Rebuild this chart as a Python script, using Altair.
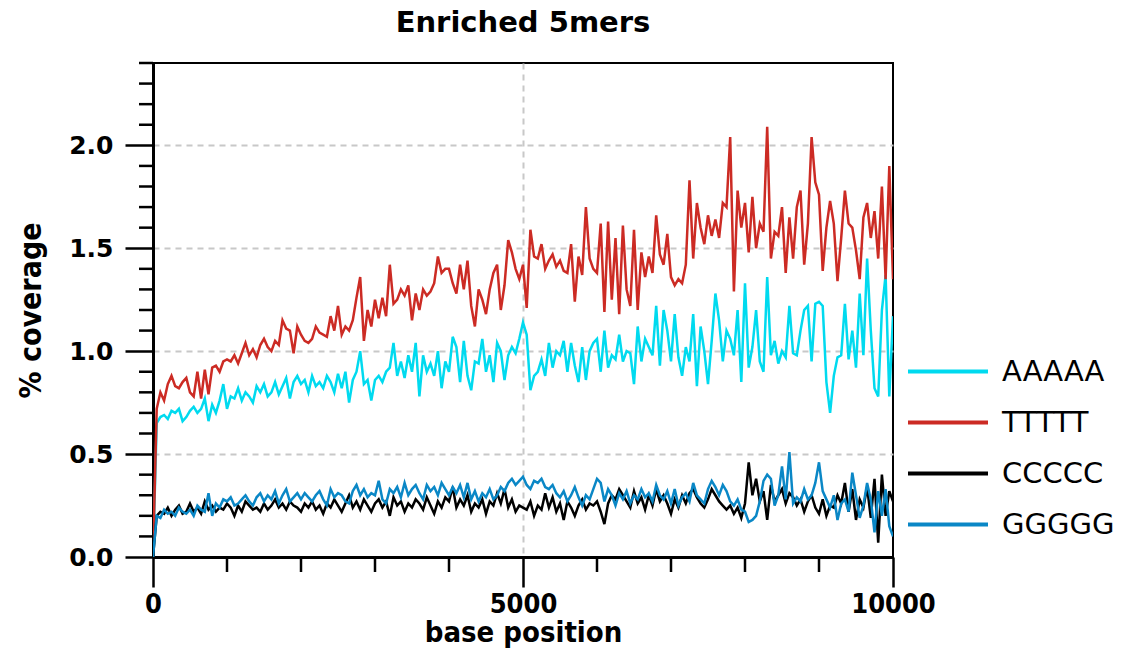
import altair as alt
import pandas as pd

# base positions (every 50 bp)
positions = list(range(0, 10001, 50))

aaaaa = [
    0, 0.65, 0.68, 0.69, 0.67, 0.71, 0.70, 0.72, 0.66, 0.68, 0.71, 0.73, 0.70, 0.72, 0.77, 0.66, 0.74, 0.70, 0.76, 0.84,
    0.72, 0.78, 0.77, 0.82, 0.76, 0.80, 0.78, 0.75, 0.83, 0.80, 0.84, 0.78, 0.80, 0.85, 0.79, 0.83, 0.87, 0.77, 0.85, 0.88,
    0.84, 0.86, 0.80, 0.88, 0.83, 0.85, 0.82, 0.88, 0.85, 0.80, 0.89, 0.82, 0.90, 0.75, 0.86, 0.90, 1.00, 0.84, 0.86, 0.76,
    0.86, 0.88, 0.85, 0.90, 0.92, 1.04, 0.88, 0.95, 0.87, 0.98, 0.90, 1.04, 0.78, 0.98, 0.90, 0.94, 0.88, 1.00, 0.82, 0.95,
    0.90, 1.07, 1.02, 0.85, 1.05, 0.88, 0.81, 0.95, 0.94, 1.06, 0.90, 0.98, 0.85, 1.04, 1.00, 0.86, 0.98, 1.02, 0.99, 1.06,
    1.14, 1.08, 0.81, 0.88, 0.90, 0.96, 0.88, 1.04, 0.92, 1.00, 0.98, 1.05, 0.90, 1.04, 0.93, 0.85, 1.02, 0.86, 1.00, 1.04,
    1.06, 0.90, 1.10, 0.92, 0.98, 0.96, 1.08, 0.95, 1.00, 0.99, 0.84, 1.12, 0.95, 1.06, 1.02, 0.98, 1.22, 0.93, 1.20, 1.10,
    0.95, 1.18, 0.97, 0.88, 1.02, 0.95, 1.18, 0.83, 1.12, 1.00, 0.84, 1.05, 1.28, 1.15, 0.95, 1.10, 1.06, 0.98, 1.20, 0.85,
    1.33, 0.92, 1.02, 1.20, 0.95, 0.90, 1.36, 0.98, 1.05, 0.94, 1.00, 0.97, 1.22, 0.99, 0.98, 1.10, 1.20, 1.22, 0.95, 1.23,
    1.24, 1.22, 0.85, 0.70, 0.88, 0.97, 0.98, 1.23, 0.96, 1.10, 0.92, 1.28, 0.98, 1.45, 1.10, 0.82, 0.78, 1.20, 1.37, 0.78,
    1.17,
]

ttttt = [
    0, 0.72, 0.80, 0.76, 0.84, 0.88, 0.83, 0.82, 0.85, 0.87, 0.80, 0.78, 0.90, 0.77, 0.91, 0.79, 0.92, 0.93, 0.90, 0.95,
    0.96, 0.95, 0.98, 0.94, 0.99, 1.04, 0.98, 1.01, 0.97, 1.03, 1.06, 1.02, 1.00, 1.05, 1.03, 1.15, 1.11, 1.10, 0.99, 1.12,
    1.08, 1.05, 1.04, 1.06, 1.12, 1.09, 1.08, 1.07, 1.17, 1.10, 1.22, 1.08, 1.12, 1.10, 1.15, 1.26, 1.36, 1.05, 1.20, 1.12,
    1.25, 1.16, 1.26, 1.17, 1.42, 1.23, 1.25, 1.30, 1.27, 1.32, 1.15, 1.28, 1.20, 1.30, 1.27, 1.29, 1.33, 1.46, 1.38, 1.40,
    1.40, 1.33, 1.28, 1.42, 1.30, 1.44, 1.22, 1.12, 1.30, 1.25, 1.18, 1.30, 1.38, 1.42, 1.20, 1.32, 1.54, 1.48, 1.40, 1.35,
    1.42, 1.21, 1.59, 1.46, 1.45, 1.52, 1.40, 1.44, 1.47, 1.41, 1.44, 1.39, 1.38, 1.52, 1.24, 1.46, 1.37, 1.70, 1.45, 1.40,
    1.38, 1.62, 1.19, 1.63, 1.25, 1.55, 1.18, 1.61, 1.30, 1.22, 1.59, 1.20, 1.48, 1.36, 1.46, 1.38, 1.66, 1.47, 1.42, 1.57,
    1.36, 1.32, 1.35, 1.33, 1.42, 1.83, 1.45, 1.72, 1.60, 1.52, 1.66, 1.56, 1.64, 1.55, 1.72, 1.70, 2.04, 1.29, 1.78, 1.60,
    1.72, 1.48, 1.75, 1.50, 1.62, 1.58, 2.09, 1.45, 1.58, 1.56, 1.70, 1.38, 1.65, 1.45, 1.70, 1.78, 1.42, 1.62, 2.04, 1.82,
    1.76, 1.39, 1.60, 1.73, 1.62, 1.34, 1.55, 1.78, 1.62, 1.60, 1.49, 1.35, 1.65, 1.72, 1.55, 1.68, 1.45, 1.80, 1.35, 1.90,
    1.35,
]

ccccc = [
    0, 0.20, 0.22, 0.21, 0.24, 0.20, 0.23, 0.25, 0.21, 0.22, 0.26, 0.22, 0.24, 0.21, 0.27, 0.23, 0.25, 0.22, 0.24, 0.23,
    0.26, 0.24, 0.20, 0.25, 0.22, 0.27, 0.25, 0.23, 0.24, 0.22, 0.26, 0.23, 0.25, 0.28, 0.24, 0.26, 0.23, 0.27, 0.25, 0.24,
    0.22, 0.26, 0.24, 0.27, 0.23, 0.25, 0.21, 0.26, 0.24, 0.28, 0.25, 0.22, 0.26, 0.30, 0.24, 0.27, 0.23, 0.28, 0.25, 0.22,
    0.26, 0.28, 0.24, 0.27, 0.20, 0.29, 0.25, 0.27, 0.22, 0.26, 0.24, 0.28, 0.26, 0.23, 0.29, 0.25, 0.21, 0.27, 0.24, 0.29,
    0.27, 0.34, 0.24, 0.28, 0.25, 0.30, 0.22, 0.26, 0.24, 0.28, 0.21, 0.27, 0.25, 0.31, 0.26, 0.33, 0.24, 0.28, 0.22, 0.25,
    0.24, 0.23, 0.27, 0.20, 0.25, 0.23, 0.31, 0.24, 0.29, 0.22, 0.26, 0.18, 0.27, 0.24, 0.20, 0.25, 0.28, 0.23, 0.26, 0.25,
    0.27, 0.22, 0.16, 0.26, 0.30, 0.28, 0.33, 0.30, 0.27, 0.24, 0.32, 0.26, 0.29, 0.23, 0.30, 0.25, 0.33, 0.27, 0.30, 0.26,
    0.21, 0.28, 0.24, 0.30, 0.26, 0.31, 0.33, 0.29, 0.26, 0.24, 0.28, 0.33, 0.30, 0.27, 0.25, 0.23, 0.25, 0.21, 0.24, 0.19,
    0.26, 0.46, 0.30, 0.38, 0.27, 0.32, 0.18, 0.35, 0.27, 0.30, 0.33, 0.26, 0.31, 0.29, 0.25, 0.28, 0.22, 0.27, 0.30, 0.24,
    0.21, 0.28, 0.20, 0.25, 0.24, 0.30, 0.26, 0.36, 0.22, 0.33, 0.18, 0.28, 0.24, 0.34, 0.19, 0.38, 0.07, 0.40, 0.20, 0.32,
    0.27,
]

ggggg = [
    0, 0.20, 0.19, 0.23, 0.21, 0.22, 0.20, 0.24, 0.22, 0.21, 0.23, 0.20, 0.25, 0.23, 0.22, 0.31, 0.20, 0.26, 0.24, 0.28,
    0.27, 0.29, 0.25, 0.26, 0.28, 0.30, 0.27, 0.25, 0.29, 0.31, 0.27, 0.30, 0.28, 0.32, 0.26, 0.30, 0.33, 0.27, 0.29, 0.31,
    0.28, 0.31, 0.29, 0.27, 0.30, 0.32, 0.28, 0.25, 0.33, 0.29, 0.31, 0.30, 0.27, 0.26, 0.32, 0.35, 0.30, 0.33, 0.29, 0.31,
    0.30, 0.37, 0.28, 0.26, 0.33, 0.31, 0.34, 0.29, 0.36, 0.30, 0.33, 0.35, 0.31, 0.28, 0.35, 0.32, 0.34, 0.30, 0.36, 0.33,
    0.30, 0.34, 0.31, 0.35, 0.29, 0.36, 0.28, 0.32, 0.27, 0.31, 0.29, 0.33, 0.28, 0.30, 0.34, 0.32, 0.36, 0.38, 0.35, 0.37,
    0.39, 0.35, 0.33, 0.37, 0.36, 0.38, 0.34, 0.33, 0.35, 0.31, 0.29, 0.32, 0.27, 0.30, 0.34, 0.29, 0.25, 0.30, 0.28, 0.33,
    0.38, 0.36, 0.27, 0.33, 0.30, 0.25, 0.31, 0.28, 0.32, 0.26, 0.30, 0.28, 0.33, 0.29, 0.31, 0.27, 0.35, 0.30, 0.28, 0.32,
    0.26, 0.33, 0.25, 0.29, 0.31, 0.27, 0.36, 0.30, 0.28, 0.26, 0.33, 0.37, 0.34, 0.30, 0.35, 0.32, 0.27, 0.25, 0.28, 0.23,
    0.22, 0.17, 0.18, 0.20, 0.27, 0.37, 0.40, 0.38, 0.25, 0.30, 0.44, 0.28, 0.51, 0.26, 0.29, 0.27, 0.33, 0.28, 0.30, 0.36,
    0.46, 0.32, 0.28, 0.24, 0.30, 0.18, 0.26, 0.28, 0.22, 0.41, 0.30, 0.19, 0.25, 0.36, 0.28, 0.12, 0.32, 0.20, 0.33, 0.15,
    0.10,
]

series_names = ["AAAAA", "TTTTT", "CCCCC", "GGGGG"]
series_colors = ["#00DAEF", "#CC2B24", "#000000", "#0A87C6"]

x_major = [0, 5000, 10000]
x_minor = [1000, 2000, 3000, 4000, 6000, 7000, 8000, 9000]
y_major = [0.0, 0.5, 1.0, 1.5, 2.0]
y_minor = [0.1, 0.2, 0.3, 0.4, 0.6, 0.7, 0.8, 0.9, 1.1, 1.2, 1.3, 1.4,
           1.6, 1.7, 1.8, 1.9, 2.1, 2.2, 2.3, 2.4]

rows = []
for name, vals in zip(series_names, [aaaaa, ttttt, ccccc, ggggg]):
    for p, v in zip(positions, vals):
        rows.append({"pos": p, "cov": v, "kmer": name})
df = pd.DataFrame(rows)

W, H = 740, 494

x_scale = alt.Scale(domain=[0, 10000], nice=False, zero=False)
y_scale = alt.Scale(domain=[0, 2.4], nice=False)

edge_grid_hidden = {"condition": {"test": "datum.value === 0 || datum.value === 10000", "value": 0},
                    "value": 1}

lines = alt.Chart(df).mark_line(strokeWidth=2.5, clip=True).encode(
    x=alt.X("pos:Q", scale=x_scale,
            axis=alt.Axis(values=x_major, format="d", title="base position", grid=True,
                          gridOpacity=edge_grid_hidden,
                          tickSize=30, tickWidth=2.5, domainWidth=3, labelFlush=False,
                          labelOverlap=False,
                          labelFont="DejaVu Sans Condensed", labelFontSize=27,
                          labelFontWeight="bold", labelPadding=4,
                          titleFont="DejaVu Sans Condensed", titleFontSize=29,
                          titleFontWeight="bold", titlePadding=1)),
    y=alt.Y("cov:Q", scale=y_scale,
            axis=alt.Axis(values=y_major, format=".1f", title="% coverage", grid=True,
                          gridOpacity=edge_grid_hidden,
                          tickSize=28, tickWidth=2.5, domainWidth=3, labelFlush=False,
                          labelFont="DejaVu Sans", labelFontSize=25,
                          labelFontWeight="bold", labelPadding=12,
                          titleFont="DejaVu Sans Condensed", titleFontSize=30,
                          titleFontWeight="bold", titlePadding=22)),
    color=alt.Color("kmer:N", sort=series_names,
                    scale=alt.Scale(domain=series_names, range=series_colors),
                    legend=alt.Legend(title=None, orient="none", legendX=753, legendY=284,
                                      symbolType="stroke", symbolSize=6400,
                                      symbolStrokeWidth=4, clipHeight=49, rowPadding=2,
                                      labelFont="DejaVu Sans", labelFontSize=29,
                                      labelOffset=12, labelLimit=300, padding=0)),
)

xminor_df = pd.DataFrame({"t": x_minor})
yminor_df = pd.DataFrame({"t": y_minor})

xminor = alt.Chart(xminor_df).mark_rule(color="black", strokeWidth=2.5).encode(
    x=alt.X("t:Q", scale=x_scale),
    y=alt.value(H), y2=alt.value(H + 15),
)
yminor = alt.Chart(yminor_df).mark_rule(color="black", strokeWidth=2.5).encode(
    y=alt.Y("t:Q", scale=y_scale),
    x=alt.value(0), x2=alt.value(-14),
)

chart = alt.layer(lines, xminor, yminor).properties(
    width=W, height=H,
    background="white",
    title=alt.TitleParams("Enriched 5mers", font="DejaVu Sans", fontSize=29,
                          fontWeight="bold", offset=24, anchor="middle"),
    padding={"left": 145, "top": 55, "right": 220, "bottom": 91},
    autosize=alt.AutoSizeParams(type="none"),
).configure_view(
    stroke="black", strokeWidth=2
).configure_axis(
    gridColor="#C8C8C8", gridDash=[6, 5], gridWidth=2,
    domainColor="black", tickColor="black", labelColor="black", titleColor="black",
)

chart.save("out.html", embed_options={"renderer": "svg", "actions": False})
